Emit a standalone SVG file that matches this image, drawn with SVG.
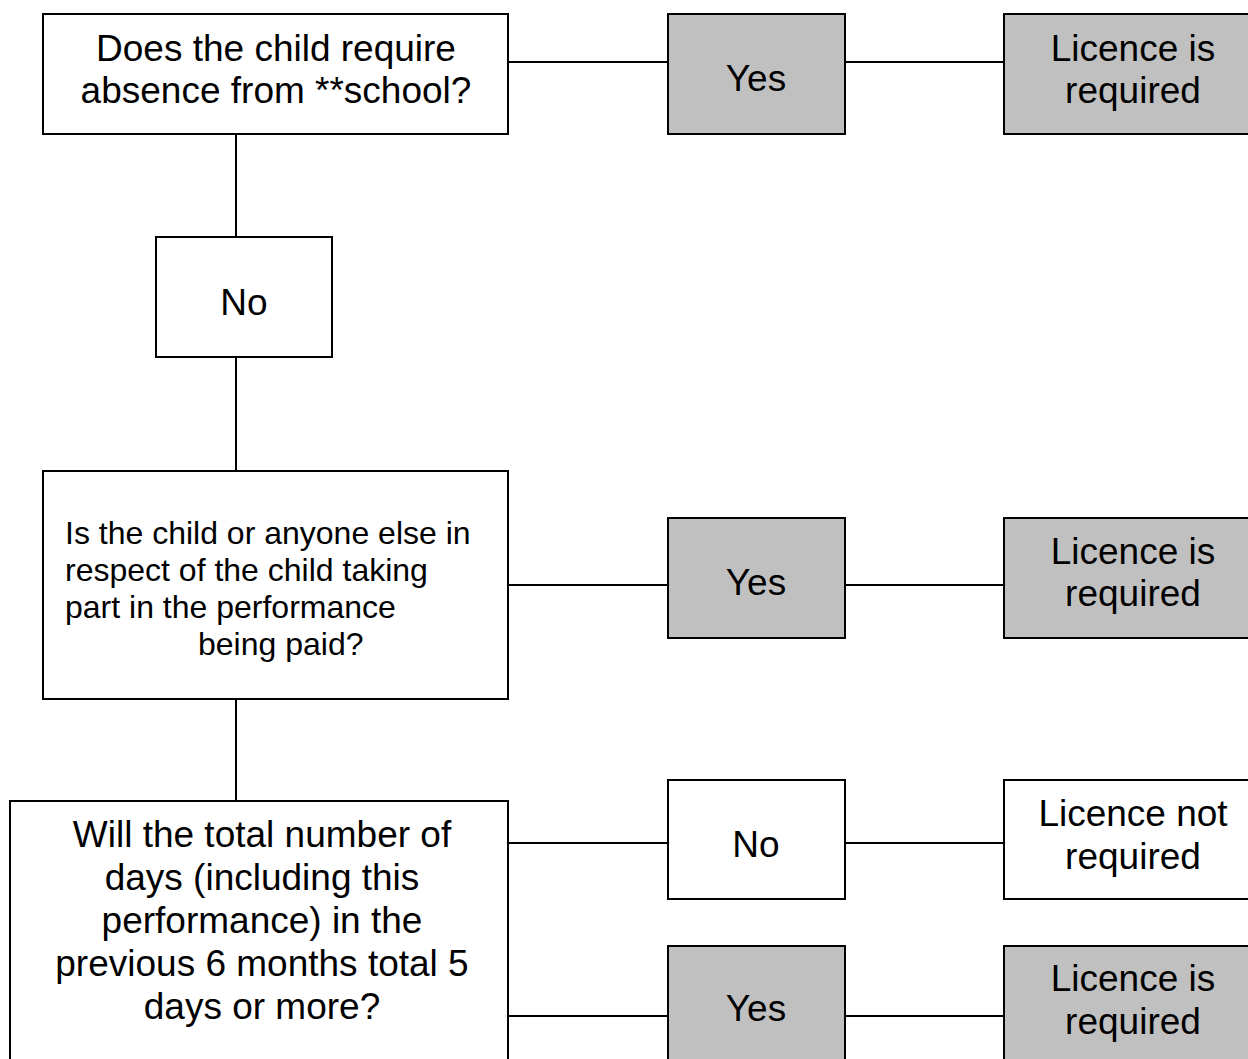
<svg xmlns="http://www.w3.org/2000/svg" width="1248" height="1059" viewBox="0 0 1248 1059">
<style>
.b{fill:#fff;stroke:#000;stroke-width:2}
.g{fill:#c0c0c0;stroke:#000;stroke-width:2}
.t{font-family:"Liberation Sans",Arial,sans-serif;font-size:37px;fill:#000;text-anchor:middle}
.s{font-family:"Liberation Sans",Arial,sans-serif;font-size:32px;fill:#000}
.c{stroke:#000;stroke-width:2;fill:none}
</style>
<rect width="1248" height="1059" fill="#fff"/>
<g id="connectors">
<line class="c" x1="508" y1="62" x2="668" y2="62"/>
<line class="c" x1="845" y1="62" x2="1004" y2="62"/>
<line class="c" x1="236" y1="134" x2="236" y2="237"/>
<line class="c" x1="236" y1="357" x2="236" y2="471"/>
<line class="c" x1="508" y1="585" x2="668" y2="585"/>
<line class="c" x1="845" y1="585" x2="1004" y2="585"/>
<line class="c" x1="236" y1="699" x2="236" y2="801"/>
<line class="c" x1="508" y1="843" x2="668" y2="843"/>
<line class="c" x1="845" y1="843" x2="1004" y2="843"/>
<line class="c" x1="508" y1="1016" x2="668" y2="1016"/>
<line class="c" x1="845" y1="1016" x2="1004" y2="1016"/>
</g>
<g id="q1">
<rect class="b" x="43" y="14" width="465" height="120"/>
<text class="t" x="276" y="61">Does the child require</text>
<text class="t" x="276" y="103">absence from **school?</text>
</g>
<g id="yes1">
<rect class="g" x="668" y="14" width="177" height="120"/>
<text class="t" x="756" y="91">Yes</text>
</g>
<g id="lic1">
<rect class="g" x="1004" y="14" width="260" height="120"/>
<text class="t" x="1133" y="61">Licence is</text>
<text class="t" x="1133" y="103">required</text>
</g>
<g id="no1">
<rect class="b" x="156" y="237" width="176" height="120"/>
<text class="t" x="244" y="315">No</text>
</g>
<g id="q2">
<rect class="b" x="43" y="471" width="465" height="228"/>
<text class="s" x="65" y="544">Is the child or anyone else in</text>
<text class="s" x="65" y="581">respect of the child taking</text>
<text class="s" x="65" y="618">part in the performance</text>
<text class="s" x="198" y="655">being paid?</text>
</g>
<g id="yes2">
<rect class="g" x="668" y="518" width="177" height="120"/>
<text class="t" x="756" y="595">Yes</text>
</g>
<g id="lic2">
<rect class="g" x="1004" y="518" width="260" height="120"/>
<text class="t" x="1133" y="564">Licence is</text>
<text class="t" x="1133" y="606">required</text>
</g>
<g id="q3">
<rect class="b" x="10" y="801" width="498" height="280"/>
<text class="t" x="262" y="847">Will the total number of</text>
<text class="t" x="262" y="890">days (including this</text>
<text class="t" x="262" y="933">performance) in the</text>
<text class="t" x="262" y="976">previous 6 months total 5</text>
<text class="t" x="262" y="1019">days or more?</text>
</g>
<g id="no3">
<rect class="b" x="668" y="780" width="177" height="119"/>
<text class="t" x="756" y="857">No</text>
</g>
<g id="lic3">
<rect class="b" x="1004" y="780" width="260" height="119"/>
<text class="t" x="1133" y="826">Licence not</text>
<text class="t" x="1133" y="869">required</text>
</g>
<g id="yes3">
<rect class="g" x="668" y="946" width="177" height="130"/>
<text class="t" x="756" y="1021">Yes</text>
</g>
<g id="lic4">
<rect class="g" x="1004" y="946" width="260" height="130"/>
<text class="t" x="1133" y="991">Licence is</text>
<text class="t" x="1133" y="1034">required</text>
</g>
</svg>
